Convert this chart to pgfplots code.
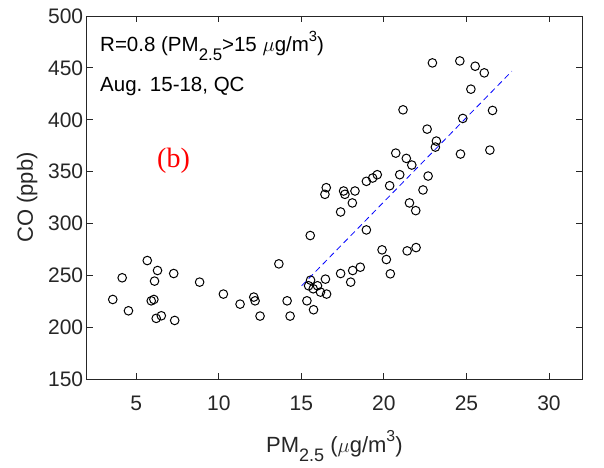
\documentclass[border=0pt]{standalone}
\usepackage{fontspec}
\setmainfont{Liberation Sans}
\newfontfamily\timesfont{Liberation Serif}
\usepackage{pgfplots}
\pgfplotsset{compat=1.18}
\newcommand{\sub}[1]{\raisebox{-0.42em}{\scalebox{0.82}{#1}}}
\newcommand{\sups}[1]{\raisebox{0.5em}{\scalebox{0.72}{#1}}}
\begin{document}
\begin{tikzpicture}
\begin{axis}[
  scale only axis, width=495.3bp, height=363.3bp,
  xmin=2, xmax=32, ymin=150, ymax=500,
  xtick={5,10,...,30}, ytick={150,200,...,500},
  tick align=inside, tick pos=both, major tick length=6bp,
  axis line style={black!85, line width=0.8bp},
  every tick/.style={black!85, line width=0.8bp},
  /pgf/number format/assume math mode=true,
  /pgf/number format/1000 sep={},
  tick label style={font=\fontsize{21bp}{25bp}\selectfont, text=black!85},
  xticklabel style={anchor=base, yshift=-31.4bp},
  label style={font=\fontsize{22bp}{26bp}\selectfont, text=black!85},
  xlabel={PM\sub{2.5} ($\mu$g/m\sups{3})},
  ylabel={CO (ppb)},
  xlabel style={at={(axis description cs:0.5,-0.2001)}, anchor=base},
  ylabel style={at={(axis description cs:-0.1084,0.5)}, anchor=base},
  clip=false,
]
\addplot[only marks, mark=o, mark size=4.3bp, black, mark options={line width=1bp}] coordinates {
(3.58,226.9) (4.15,247.8) (4.53,216.0) (5.67,264.4) (6.29,254.8) (6.11,244.6)
(5.91,225.6) (6.07,226.9) (6.21,208.7) (6.52,211.2) (7.27,251.9) (7.33,206.7)
(8.84,243.6) (10.28,232.1) (11.29,222.4) (12.12,229.2) (12.20,225.6) (12.50,210.9)
(13.64,261.2) (14.14,225.6) (14.32,210.9) (15.34,225.6) (15.54,288.5) (15.56,245.5)
(15.44,240.1) (15.72,237.2) (15.74,217.0) (15.98,240.1) (16.16,234.0) (16.46,246.5)
(16.53,232.1) (16.51,334.6) (16.43,328.2) (17.38,311.2) (17.38,251.9) (17.56,331.4)
(17.64,328.2) (18.09,319.9) (18.25,331.4) (17.99,243.6) (18.11,254.8) (18.57,258.0)
(18.94,293.9) (18.94,340.7) (19.32,343.9) (19.60,347.1) (19.89,274.7) (20.15,265.4)
(20.39,251.6) (20.35,336.5) (20.72,367.9) (20.96,347.1) (21.16,409.6) (21.36,362.8)
(21.41,273.7) (21.69,356.4) (21.55,319.9) (21.93,312.5) (21.95,276.9) (22.37,332.4)
(22.68,345.8) (22.62,391.0) (22.94,454.8) (23.18,379.5) (23.12,373.7) (24.60,456.7)
(24.64,367.0) (24.78,401.3) (25.27,429.5) (25.53,451.6) (26.08,445.2) (26.58,409.0)
(26.42,370.8)
};
\addplot[blue, dash pattern=on 6bp off 4bp, line width=0.8bp] coordinates {(15.02,240.1) (27.75,446.8)};
\node[anchor=base west, font=\fontsize{20.5bp}{24bp}\selectfont, inner sep=0pt] at (axis description cs:0.0269,0.9017) {R=0.8 (PM\sub{2.5}>15 $\mu$g/m\sups{3})};
\node[anchor=base west, font=\fontsize{20.5bp}{24bp}\selectfont, inner sep=0pt] at (axis description cs:0.0269,0.7916) {Aug. 15-18, QC};
\node[red, font=\timesfont\fontsize{28bp}{32bp}\selectfont] at (axis cs:7.26,360.9) {(b)};
\coordinate (bl) at (axis description cs:-0.175,-0.2414);
\coordinate (tr) at (axis description cs:1.0444,1.044);
\end{axis}
\pgfresetboundingbox
\path (bl) rectangle (tr);
\end{tikzpicture}
\end{document}
